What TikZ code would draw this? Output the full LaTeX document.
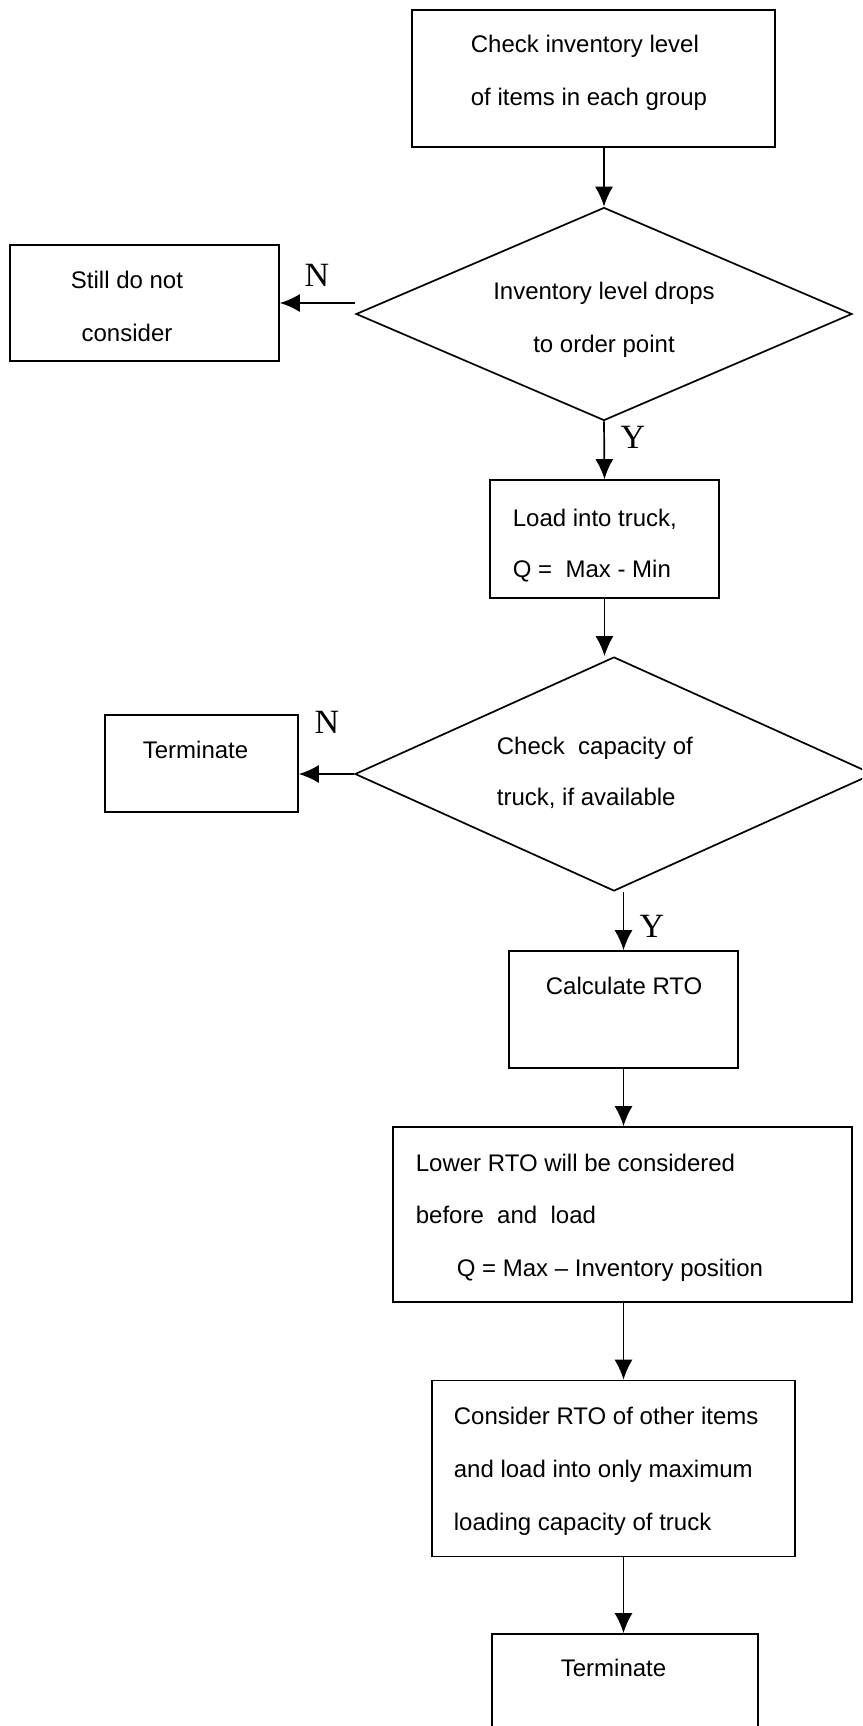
\documentclass[tikz,border=0pt]{standalone}
\usepackage{fontspec}
\setmainfont{Liberation Sans}
\newfontfamily\yesnofont{Liberation Serif}
\usetikzlibrary{shapes.geometric,arrows.meta}

\begin{document}
\begin{tikzpicture}[x=1pt, y=-1pt, >={Latex[length=20pt,width=18pt]}, line width=1.7pt,
    box/.style={draw, rectangle, inner sep=0pt},
    decision/.style={draw, diamond, inner sep=0pt},
    txt/.style={inner sep=0pt, font=\fontsize{24}{28}\selectfont},
    yn/.style={inner sep=0pt, font=\yesnofont\fontsize{34}{40}\selectfont}]
    \useasboundingbox (0,0) rectangle (862,1726);
    \clip (0,0) rectangle (862,1726);

    % shapes
    \node[box, minimum width=363pt, minimum height=137pt] (check) at (593.5,78.5) {};
    \node[decision, minimum width=496pt, minimum height=213pt] (drop) at (604,314) {};
    \node[box, minimum width=269pt, minimum height=116pt] (still) at (144.5,303) {};
    \node[box, minimum width=229pt, minimum height=118pt] (load) at (604.5,539) {};
    \node[decision, minimum width=518pt, minimum height=234pt] (cap) at (614,774) {};
    \node[box, minimum width=193pt, minimum height=97pt] (stop) at (201.5,763.5) {};
    \node[box, minimum width=229pt, minimum height=117pt] (rto) at (623.5,1009.5) {};
    \node[box, minimum width=459pt, minimum height=175pt] (lower) at (622.5,1214.5) {};
    \node[box, minimum width=363pt, minimum height=176pt] (other) at (613.5,1468.5) {};
    \node[box, minimum width=266pt, minimum height=140pt] (end) at (625,1704) {};

    % texts
    \node[txt, anchor=base west] (checka) at (470,53) {Check inventory level};
    \node[txt, anchor=base west] (checkb) at (470,106) {of items in each group};
    \node[txt, anchor=base] (dropa) at (604,299) {Inventory level drops};
    \node[txt, anchor=base] (dropb) at (604,352) {to order point};
    \node[txt, anchor=base] (stilla) at (127,288) {Still do not};
    \node[txt, anchor=base] (stillb) at (127,341) {consider};
    \node[txt, anchor=base west] (loada) at (512,526) {Load into truck,};
    \node[txt, anchor=base west] (loadb) at (512,577) {Q =~ Max - Min};
    \node[txt, anchor=base west] (capa) at (496,754) {Check~ capacity of};
    \node[txt, anchor=base west] (capb) at (496,805) {truck, if available};
    \node[txt, anchor=base west] (stopa) at (142,758) {Terminate};
    \node[txt, anchor=base west] (rtoa) at (545,994) {Calculate RTO};
    \node[txt, anchor=base west] (lowera) at (415,1171) {Lower RTO will be considered};
    \node[txt, anchor=base west] (lowerb) at (415,1223) {before~ and~ load};
    \node[txt, anchor=base west] (lowerc) at (456,1276) {Q = Max -- Inventory position};
    \node[txt, anchor=base west] (othera) at (453,1424) {Consider RTO of other items};
    \node[txt, anchor=base west] (otherb) at (453,1477) {and load into only maximum};
    \node[txt, anchor=base west] (otherc) at (453,1530) {loading capacity of truck};
    \node[txt, anchor=base west] (enda) at (560,1676) {Terminate};

    % yes / no
    \node[yn] (nodrop) at (317,275) {N};
    \node[yn] (yesdrop) at (633,437) {Y};
    \node[yn] (nocap) at (327,722) {N};
    \node[yn] (yescap) at (652,926) {Y};

    % arrows
    \draw[->] (drop.north |- check.south) -- (drop.north);
    \draw[->] (drop.west |- still.east) -- (still.east);
    \draw[->] (drop.south) -- (load.north);
    \draw[->] (load.south) -- (load.south |- cap.north);
    \draw[->] (cap.west) -- (cap.west -| stop.east);
    \draw[->] (rto.north |- cap.south) -- (rto.north);
    \draw[->] (rto.south) -- (rto.south |- lower.north);
    \draw[->] (rto.south |- lower.south) -- (rto.south |- other.north);
    \draw[->] (rto.south |- other.south) -- (rto.south |- end.north);
\end{tikzpicture}
\end{document}
